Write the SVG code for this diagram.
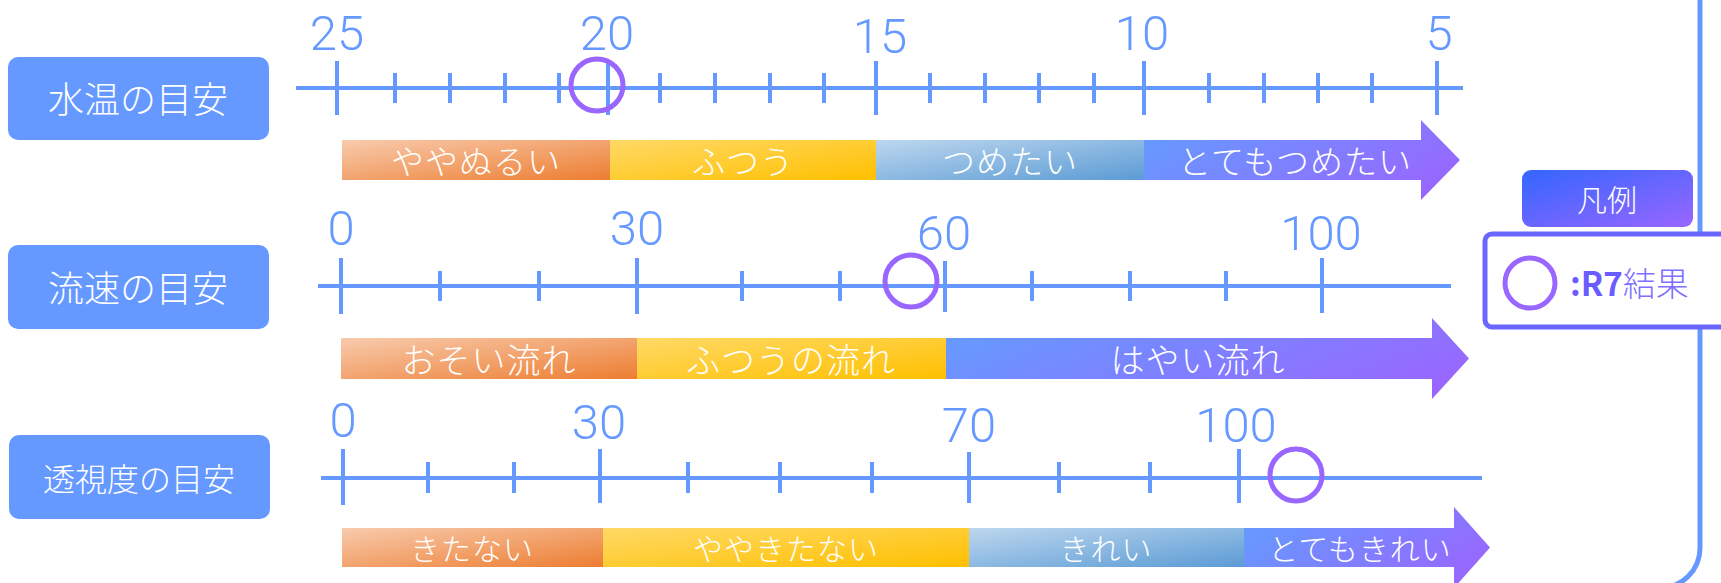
<svg xmlns="http://www.w3.org/2000/svg" width="1721" height="583" viewBox="0 0 1721 583">
<style>
.box{fill:#6699FF}
.boxtxt{fill:#fff;font-family:"Noto Sans CJK JP","Noto Sans",sans-serif;font-weight:300;text-anchor:middle;dominant-baseline:central}
.axis{stroke:#6699FF;stroke-width:4;fill:none}
.num{fill:#6699FF;font-family:Roboto,"Noto Sans",sans-serif;font-weight:300;font-size:49px;text-anchor:middle}
.bartxt{fill:#fff;font-family:"Noto Sans CJK JP",sans-serif;font-weight:300;text-anchor:middle;dominant-baseline:central;letter-spacing:1px}
.mark{fill:none;stroke:#9966FF;stroke-width:5}
</style>
<defs>
<linearGradient id="gOrange" x1="0" y1="0" x2="1" y2="1"><stop offset="0" stop-color="#F8CBAD"/><stop offset="1" stop-color="#ED7D31"/></linearGradient>
<linearGradient id="gYellow" x1="0" y1="0" x2="1" y2="1"><stop offset="0" stop-color="#FFD966"/><stop offset="1" stop-color="#FFC000"/></linearGradient>
<linearGradient id="gBlue" x1="0" y1="0" x2="1" y2="1"><stop offset="0" stop-color="#BDD7EE"/><stop offset="1" stop-color="#5B9BD5"/></linearGradient>
<linearGradient id="gArrow" x1="0" y1="0.3" x2="1" y2="0.7"><stop offset="0" stop-color="#6699FF"/><stop offset="1" stop-color="#9966FF"/></linearGradient>
<linearGradient id="gLegend" x1="0" y1="0" x2="1" y2="1"><stop offset="0" stop-color="#3366FF"/><stop offset="1" stop-color="#9966FF"/></linearGradient>
</defs>

<g id="connectors">
<path d="M1700,-5 V548 A40,40 0 0 1 1660,588 H1600" fill="none" stroke="#6699FF" stroke-width="5"/>
</g>

<!-- Row 1: water temperature -->
<g id="node-water">
<rect class="box" x="8" y="57" width="261" height="83" rx="10"/>
<text class="boxtxt" x="138" y="97" font-size="36">水温の目安</text>
</g>
<g id="scale-water">
<line class="axis" x1="296" y1="88" x2="1463" y2="88"/>
<path class="axis" d="M337,61V115 M608,61V115 M876,61V115 M1144,61V115 M1437,61V115 M395,73V103 M450,73V103 M505,73V103 M559,73V103 M660,73V103 M715,73V103 M770,73V103 M824,73V103 M930,73V103 M985,73V103 M1039,73V103 M1094,73V103 M1209,73V103 M1264,73V103 M1318,73V103 M1372,73V103"/>
<text class="num" x="337" y="50">25</text>
<text class="num" x="607" y="50">20</text>
<text class="num" x="880" y="53">15</text>
<text class="num" x="1142" y="50">10</text>
<text class="num" x="1439" y="50">5</text>
<rect x="342" y="140" width="269" height="40" fill="url(#gOrange)"/>
<rect x="610" y="140" width="267" height="40" fill="url(#gYellow)"/>
<rect x="876" y="140" width="269" height="40" fill="url(#gBlue)"/>
<polygon points="1144,140 1421,140 1421,120 1460,160 1421,200 1421,180 1144,180" fill="url(#gArrow)"/>
<text class="bartxt" x="476" y="160" font-size="33">ややぬるい</text>
<text class="bartxt" x="743" y="160" font-size="33">ふつう</text>
<text class="bartxt" x="1010" y="160" font-size="33">つめたい</text>
<text class="bartxt" x="1295" y="160" font-size="33">とてもつめたい</text>
<circle class="mark" cx="597" cy="85" r="26"/>
</g>

<!-- Row 2: flow speed -->
<g id="node-flow">
<rect class="box" x="8" y="245" width="261" height="84" rx="10"/>
<text class="boxtxt" x="138" y="286" font-size="36">流速の目安</text>
</g>
<g id="scale-flow">
<line class="axis" x1="318" y1="286" x2="1451" y2="286"/>
<path class="axis" d="M341,258V314 M637,258V314 M945,261V312 M1322,258V313 M440,271V301 M539,271V301 M742,271V301 M840,271V301 M1032,271V301 M1130,271V301 M1226,271V301"/>
<text class="num" x="341" y="245">0</text>
<text class="num" x="637" y="245">30</text>
<text class="num" x="944" y="250">60</text>
<text class="num" x="1321" y="250">100</text>
<rect x="341" y="338" width="297" height="41" fill="url(#gOrange)"/>
<rect x="637" y="338" width="310" height="41" fill="url(#gYellow)"/>
<polygon points="946,338 1432,338 1432,318 1469,358.5 1432,399 1432,379 946,379" fill="url(#gArrow)"/>
<text class="bartxt" x="489" y="358" font-size="34">おそい流れ</text>
<text class="bartxt" x="791" y="358" font-size="34">ふつうの流れ</text>
<text class="bartxt" x="1198" y="358" font-size="34">はやい流れ</text>
<circle class="mark" cx="911" cy="281" r="26"/>
</g>

<!-- Row 3: transparency -->
<g id="node-clarity">
<rect class="box" x="9" y="435" width="261" height="84" rx="10"/>
<text class="boxtxt" x="139" y="477" font-size="32">透視度の目安</text>
</g>
<g id="scale-clarity">
<line class="axis" x1="321" y1="478" x2="1482" y2="478"/>
<path class="axis" d="M343,449V505 M600,449V503 M969,452V503 M1239,449V503 M428,462V493 M514,462V493 M688,462V493 M780,462V493 M872,462V493 M1059,462V493 M1150,462V493"/>
<text class="num" x="343" y="437">0</text>
<text class="num" x="599" y="439">30</text>
<text class="num" x="969" y="442">70</text>
<text class="num" x="1236" y="442">100</text>
<rect x="342" y="528" width="262" height="39" fill="url(#gOrange)"/>
<rect x="603" y="528" width="367" height="39" fill="url(#gYellow)"/>
<rect x="969" y="528" width="276" height="39" fill="url(#gBlue)"/>
<polygon points="1244,528 1454,528 1454,507 1490,547.5 1454,588 1454,567 1244,567" fill="url(#gArrow)"/>
<text class="bartxt" x="472" y="547" font-size="30">きたない</text>
<text class="bartxt" x="786" y="547" font-size="30">ややきたない</text>
<text class="bartxt" x="1106" y="547" font-size="30">きれい</text>
<text class="bartxt" x="1360" y="547" font-size="30">とてもきれい</text>
<circle class="mark" cx="1296" cy="475" r="26"/>
</g>

<!-- Legend -->
<g id="legend-title">
<rect x="1522" y="170" width="171" height="57" rx="9" fill="url(#gLegend)"/>
<text class="boxtxt" x="1607" y="198" font-size="30">凡例</text>
</g>
<g id="legend">
<rect x="1485" y="234" width="300" height="93" rx="7" fill="#fff" stroke="#6B66FF" stroke-width="5"/>
<circle class="mark" cx="1530" cy="283" r="25"/>
<text x="1570" y="296" font-size="33" fill="#6B5CFF" font-family="'Noto Sans CJK JP','Noto Sans',sans-serif"><tspan font-weight="700">:R7</tspan><tspan font-weight="300" fill="#8070FF">結果</tspan></text>
</g>
</svg>
